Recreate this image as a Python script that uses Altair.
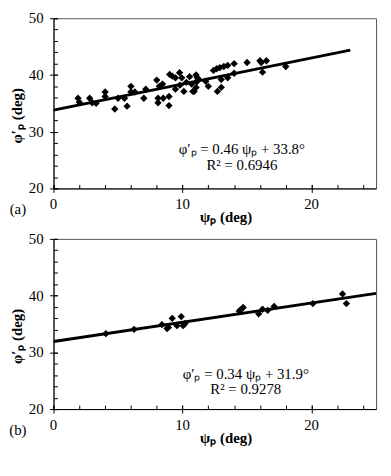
import altair as alt
import pandas as pd

# ---- data ----
a_x = [1.9, 2.0, 2.8, 3.0, 3.3, 4.0, 4.0, 4.75, 5.0, 5.5, 5.7, 6.0, 6.0, 6.3, 7.0, 7.15,
       8.0, 8.1, 8.1, 8.2, 8.45, 8.5, 8.95, 8.95, 9.0, 9.2, 9.45, 9.45, 9.77, 9.8, 9.94,
       10.1, 10.3, 10.55, 10.8, 10.7, 10.9, 11.05, 11.15, 11.1, 11.05, 11.2, 11.8, 12.0,
       12.4, 12.65, 12.7, 12.9, 13.0, 13.0, 13.2, 13.5, 13.5, 14.0, 14.0, 15.0, 16.0,
       16.1, 16.2, 16.5, 18.0]
a_y = [35.9, 35.2, 35.9, 35.1, 35.0, 37.0, 36.2, 34.0, 35.9, 35.9, 34.5, 38.0, 37.0, 37.0,
       35.9, 37.5, 39.1, 35.9, 35.1, 38.0, 38.4, 35.9, 36.2, 34.6, 40.1, 39.8, 39.5, 37.5,
       40.4, 38.2, 39.5, 37.1, 38.7, 39.7, 37.1, 38.4, 37.1, 40.0, 39.5, 38.8, 37.8, 39.3,
       38.9, 38.0, 40.8, 41.1, 37.1, 41.3, 39.2, 37.8, 41.5, 39.5, 41.7, 42.0, 40.3, 42.2,
       42.5, 42.2, 40.5, 42.5, 41.5]

b_x = [4.06, 6.24, 8.4, 8.8, 8.9, 9.2, 9.57, 9.9, 10.05, 10.2, 14.4, 14.5, 14.7, 15.9,
       16.2, 16.6, 17.1, 20.1, 22.4, 22.7]
b_y = [33.3, 34.05, 34.9, 34.2, 34.4, 36.0, 34.7, 36.3, 34.7, 35.1, 37.3, 37.5, 37.9, 36.8,
       37.6, 37.4, 38.1, 38.6, 40.3, 38.6]

a_slope, a_icpt, a_fit_x = 0.46, 33.8, [0, 23]
b_slope, b_icpt, b_fit_x = 0.34, 31.9, [0, 25]

a_eq, a_r2 = "φ′ₚ = 0.46 ψₚ + 33.8°", "R² = 0.6946"
b_eq, b_r2 = "φ′ₚ = 0.34 ψₚ + 31.9°", "R² = 0.9278"

x_title = "ψₚ (deg)"
y_title = "φ′ₚ (deg)"

x_major = [0, 10, 20]
x_minor = list(range(0, 25, 2))
y_major = [20, 30, 40, 50]
y_minor = list(range(20, 51, 2))

FONT = "Liberation Serif"
W = 326
H = 172

AX = dict(tickColor="black", domainColor="black", grid=False, minExtent=0,
          labels=False, title=None)


def panel(xs, ys, slope, icpt, fit_x, eq, r2, tag, eq_pos, r2_pos):
    xsc = alt.Scale(domain=[0, 25], nice=False, zero=False)
    ysc = alt.Scale(domain=[20, 50], nice=False, zero=False)
    # points; their axes draw the major ticks, crossing the axis line
    pts = alt.Chart(pd.DataFrame({"x": xs, "y": ys})).mark_point(
        shape="diamond", filled=True, color="black", size=55, opacity=1
    ).encode(
        x=alt.X("x:Q", scale=xsc, axis=alt.Axis(
            values=x_major, orient="bottom", offset=-4, tickSize=8, domain=False, **AX)),
        y=alt.Y("y:Q", scale=ysc, axis=alt.Axis(
            values=y_major, orient="left", offset=-4, tickSize=8, domain=False, **AX)),
    )
    # fitted line; its axes draw the minor ticks, pointing inward
    fit = pd.DataFrame({"x": fit_x, "y": [slope * v + icpt for v in fit_x]})
    line = alt.Chart(fit).mark_line(color="black", strokeWidth=3).encode(
        x=alt.X("x:Q", scale=xsc, axis=alt.Axis(
            values=x_minor, orient="bottom", offset=-4, tickSize=4, domain=False, **AX)),
        y=alt.Y("y:Q", scale=ysc, axis=alt.Axis(
            values=y_minor, orient="left", offset=-4, tickSize=4, domain=False, **AX)),
    )
    base = alt.Chart(pd.DataFrame({"t": [0]}))
    # equation text; its axes draw the axis lines
    t1 = base.mark_text(font=FONT, fontSize=15, color="black").encode(
        x=alt.X(datum=eq_pos[0], type="quantitative", scale=xsc, axis=alt.Axis(
            orient="bottom", ticks=False, domain=True, **AX)),
        y=alt.Y(datum=eq_pos[1], type="quantitative", scale=ysc, axis=alt.Axis(
            orient="left", ticks=False, domain=True, **AX)),
        text=alt.value(eq))
    t2 = base.mark_text(font=FONT, fontSize=15, color="black").encode(
        x=alt.X(datum=r2_pos[0], type="quantitative", scale=xsc, axis=None),
        y=alt.Y(datum=r2_pos[1], type="quantitative", scale=ysc, axis=None),
        text=alt.value(r2))
    t3 = base.mark_text(font=FONT, fontSize=15, color="black").encode(
        x=alt.value(-36), y=alt.value(H + 21), text=alt.value(tag))
    # tick labels
    xl = alt.Chart(pd.DataFrame({"v": x_major})).mark_text(
        font=FONT, fontSize=15, color="black", baseline="middle").encode(
        x=alt.X("v:Q", scale=xsc, axis=None), y=alt.value(H + 16), text="v:Q")
    yl = alt.Chart(pd.DataFrame({"v": y_major})).mark_text(
        font=FONT, fontSize=15, color="black", align="right", baseline="middle").encode(
        x=alt.value(-10), y=alt.Y("v:Q", scale=ysc, axis=None), text="v:Q")
    # axis titles
    xt = base.mark_text(font=FONT, fontSize=15, fontWeight="bold", color="black",
                        baseline="middle").encode(
        x=alt.value(W * 0.535), y=alt.value(H + 29), text=alt.value(x_title))
    yt = base.mark_text(font=FONT, fontSize=15, fontWeight="bold", color="black",
                        baseline="middle", angle=270).encode(
        x=alt.value(-37), y=alt.value(H * 0.573), text=alt.value(y_title))
    return alt.layer(pts, line, t1, t2, t3, xl, yl, xt, yt).resolve_axis(
        x="independent", y="independent").properties(width=W, height=H)


pa = panel(a_x, a_y, a_slope, a_icpt, a_fit_x, a_eq, a_r2, "(a)",
           (14.6, 26.9), (14.6, 24.2))
pb = panel(b_x, b_y, b_slope, b_icpt, b_fit_x, b_eq, b_r2, "(b)",
           (14.9, 26.25), (14.9, 23.6))

chart = alt.vconcat(pa, pb, spacing=5).properties(
    padding={"left": 0, "top": 0, "right": 0, "bottom": 0}
).configure(
    background="white", font=FONT
).configure_view(
    stroke="#555555", strokeWidth=1
)

chart.save("out.html", embed_options={"renderer": "svg", "actions": False})
